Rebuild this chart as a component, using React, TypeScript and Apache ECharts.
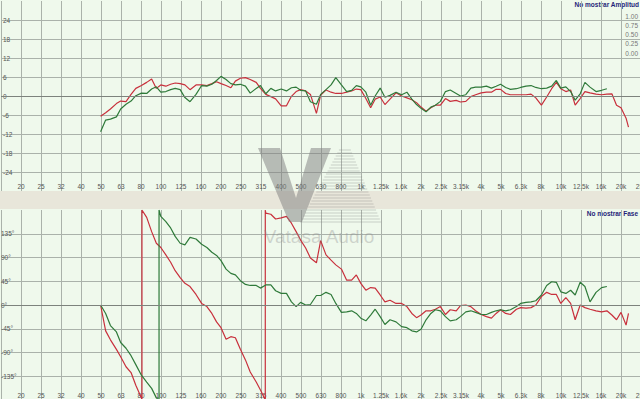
import React, { useEffect, useRef } from "react";
import * as echarts from "echarts";

// Third-octave tick labels; index 0 corresponds to band position -1 (16 Hz, hidden)
const bandLabels = ["", "20", "25", "32", "40", "50", "63", "80", "100", "125", "160", "200", "250", "315", "400", "500", "630", "800", "1k", "1.25k", "1.6k", "2k", "2.5k", "3.15k", "4k", "5k", "6.3k", "8k", "10k", "12.5k", "16k", "20k", "25k"];

// 1/12-octave measurement frequencies (Hz)
const freqs = [
  50, 53, 56, 60, 63, 67, 71, 75, 80, 85, 90, 95,
  100, 106, 112, 118, 125, 132, 140, 150, 160, 170, 180, 190,
  200, 212, 224, 236, 250, 265, 280, 300, 315, 335, 355, 375,
  400, 425, 450, 475, 500, 530, 560, 600, 630, 670, 710, 750,
  800, 850, 900, 950, 1000, 1060, 1120, 1180, 1250, 1320, 1400, 1500,
  1600, 1700, 1800, 1900, 2000, 2120, 2240, 2360, 2500, 2650, 2800, 3000,
  3150, 3350, 3550, 3750, 4000, 4250, 4500, 4750, 5000, 5300, 5600, 6000,
  6300, 6700, 7100, 7500, 8000, 8500, 9000, 9500, 10000, 10600, 11200, 11800,
  12500, 13200, 14000, 15000, 16000, 17000, 18000, 19000, 20000, 21200, 21800,
];

// Amplitude (dB)
const ampRed = [
  -6.4, -5.3, -4.1, -2.4, -1.6, -1.8, 0.5, 2.4, 3.3, 4.3, 5.4, 2.4,
  3.5, 3.1, 3.7, 4.1, 3.9, 3.5, 2.0, 3.5, 3.5, 3.3, 3.9, 4.5,
  3.9, 3.3, 2.6, 4.7, 5.6, 5.8, 5.2, 4.3, 2.4, 0.5, -0.2, -0.9,
  -3.1, -3.1, -0.1, 1.4, 2.0, 1.6, 0.5, -5.5, 0.3, 1.9, 1.2, 0.8,
  0.8, 1.2, 1.6, 2.2, 2.0, -0.8, -3.7, -1.0, -0.3, -2.7, -1.0, 1.0,
  0.0, -0.6, -1.2, -2.1, -3.5, -4.8, -3.7, -2.9, -2.9, -0.8, -1.7, -1.4,
  -1.9, -1.7, -0.2, 0.4, 1.0, 1.2, 1.2, 2.1, 2.1, 0.8, 0.4, 0.4,
  0.4, 0.4, 0.6, -0.6, -2.9, -0.3, 2.3, 4.3, 2.3, 1.4, 1.9, -2.9,
  -0.8, 1.4, 1.0, 0.6, 0.4, 0.6, 0.7, -2.9, -3.7, -7.0, -9.8,
];
const ampGreen = [
  -11.3, -7.6, -7.3, -6.6, -4.1, -2.6, -1.6, 0.1, 0.9, 0.8, 2.2, 2.9,
  1.2, 1.4, 2.0, 2.4, 2.0, -0.5, -1.8, 0.5, 3.3, 3.1, 3.7, 4.9,
  6.2, 5.2, 3.9, 3.5, 3.7, 3.1, 0.9, 2.4, 3.3, 0.7, 2.4, 1.6,
  2.2, 1.6, 2.6, 2.8, 1.8, 1.6, -1.8, -2.6, 0.5, 2.0, 3.5, 5.8,
  3.5, 1.4, 1.8, 3.3, 2.9, 1.2, -2.9, 0.0, 2.5, -0.4, 0.2, 1.2,
  0.4, 1.2, -1.0, -2.7, -3.9, -5.0, -3.5, -2.9, -1.7, 1.4, 1.9, 0.8,
  0.0, 0.4, 2.5, 2.8, 2.8, 3.1, 2.5, 3.1, 3.7, 2.7, 2.1, 2.3,
  2.7, 3.1, 3.3, 2.7, 2.3, 2.5, 3.1, 4.9, 2.5, 2.9, 1.4, -1.3,
  0.7, 4.3, 2.8, 1.4, 1.8, 2.3,
];

// Phase (degrees), wrapped to ±180
const phaseRed = [
  0, -49, -66, -84, -98, -117, -128, -152, -176, 166, 139, 117,
  109, 95, 81, 65, 52, 41, 35, 20, 3, -3, -16, -32,
  -43, -65, -60, -62, -84, -104, -127, -146, -161, 174, 172, 163,
  165, 168, 155, 139, 123, 108, 89, 80, 122, 95, 85, 76,
  68, 47, 47, 57, 41, 28, 33, 32, 19, 6, 9, 3,
  3, -3, -16, -24, -19, -11, -11, -8, -3, -18, -9, -11,
  -1, 0, -3, -11, -18, -22, -25, -16, -9, -16, -18, -8,
  -5, -6, -5, 0, 16, 24, 20, 20, 3, 14, 3, -28,
  0, -5, -8, -11, -13, -11, -19, -28, -14, -38, -16,
];
const phaseRedWraps = [80.5, 333];
const phaseGreen = [
  0, -16, -39, -51, -71, -82, -96, -113, -133, -146, -158, -176,
  168, 158, 146, 130, 117, 114, 128, 125, 115, 109, 100, 94,
  84, 68, 60, 57, 46, 39, 37, 37, 32, 38, 38, 27,
  22, 22, 6, -3, 5, 0, 1, 18, 18, 24, 20, 3,
  -14, -13, -11, -16, -25, -30, -19, -8, -22, -37, -28, -32,
  -41, -43, -49, -51, -46, -28, -16, -9, -11, -22, -30, -28,
  -22, -13, -11, -14, -18, -18, -14, -11, -9, -11, -9, -3,
  3, 5, 6, 8, 19, 37, 44, 43, 25, 22, 28, 19,
  43, 35, 6, 24, 33, 35,
];
const phaseGreenWraps = [98];

const coherenceTicks = [0, 0.25, 0.5, 0.75, 1];

const RED = "#c8303c";
const GREEN = "#2f7a3a";
const GRID = "#aab2aa";
const FONT = "'Liberation Sans', Arial, sans-serif";

const toBand = (f: number) => 10 * Math.log10(f / 20);

function ampPairs(vals: number[]) {
  return vals.map((v, i) => [toBand(freqs[i]), v]);
}
function phasePairs(vals: number[], wraps: number[]) {
  const out: number[][] = [];
  vals.forEach((v, i) => {
    if (i > 0) {
      wraps.forEach((w) => {
        if (w > freqs[i - 1] && w <= freqs[i]) {
          out.push([toBand(w), -180]);
          out.push([toBand(w), 180]);
        }
      });
    }
    out.push([toBand(freqs[i]), v]);
  });
  return out;
}

function watermark() {
  const els: any[] = [];
  // "A" hatch
  for (let y = 150; y <= 222; y += 3) {
    const xl = 340 - (y - 148) * 0.54;
    const xr = 350 + (y - 148) * 0.42;
    els.push({
      type: "line",
      shape: { x1: xl, y1: y, x2: xr, y2: y },
      style: { stroke: "rgba(130,130,130,0.35)", lineWidth: 1 },
      silent: true,
      z: 5,
    });
  }
  // "V"
  els.push({
    type: "polygon",
    shape: {
      points: [
        [258, 148], [280, 148], [296, 198], [311, 148], [331, 148], [302, 222], [289, 222],
      ],
    },
    style: { fill: "rgba(125,125,125,0.5)" },
    silent: true,
    z: 5,
  });
  els.push({
    type: "text",
    x: 319,
    y: 236,
    style: {
      text: "Vatasa Audio",
      fill: "rgba(140,140,140,0.35)",
      font: `19px ${FONT}`,
      align: "center",
      verticalAlign: "middle",
    },
    silent: true,
    z: 5,
  });
  return els;
}

export default function App() {
  const ref = useRef<HTMLDivElement>(null);
  useEffect(() => {
    const chart = echarts.init(ref.current!, null, { renderer: "svg" });
    const xAxisBase = (gridIndex: number) => ({
      gridIndex,
      type: "value",
      min: -1,
      max: 31,
      interval: 1,
      axisLine: { show: false },
      axisTick: { show: false },
      splitLine: { show: true, lineStyle: { color: GRID, width: 1 } },
      axisLabel: {
        inside: true,
        margin: 1,
        fontSize: 6.5,
        color: "#555",
        fontFamily: FONT,
        formatter: (v: number) => bandLabels[Math.round(v) + 1] ?? "",
      },
    });
    const option: any = {
      animation: false,
      backgroundColor: "#e8e6da",
      grid: [
        { left: 1, top: 1, width: 640, height: 190, outerBoundsMode: "none", containLabel: false },
        { left: 1, top: 210, width: 640, height: 190, outerBoundsMode: "none", containLabel: false },
        { right: 1, top: 16, width: 20, height: 37, outerBoundsMode: "none", containLabel: false },
      ],
      xAxis: [
        xAxisBase(0),
        xAxisBase(1),
        { gridIndex: 2, type: "value", min: 0, max: 1, show: false },
      ],
      yAxis: [
        {
          gridIndex: 0,
          type: "value",
          min: -30,
          max: 30,
          interval: 6,
          axisLine: { show: false },
          axisTick: { show: false },
          splitLine: { show: true, showMinLine: false, showMaxLine: false, lineStyle: { color: GRID } },
          axisLabel: {
            inside: true,
            margin: 2,
            fontSize: 6.5,
            color: "#555",
            fontFamily: FONT,
            formatter: (v: number) => (Math.abs(v) >= 30 ? "" : String(v)),
          },
        },
        {
          gridIndex: 1,
          type: "value",
          min: -180,
          max: 180,
          interval: 45,
          axisLine: { show: false },
          axisTick: { show: false },
          splitLine: { show: true, showMinLine: false, showMaxLine: false, lineStyle: { color: GRID } },
          axisLabel: {
            inside: true,
            margin: 0,
            fontSize: 6.5,
            color: "#555",
            fontFamily: FONT,
            formatter: (v: number) => (Math.abs(v) >= 180 ? "" : v + "°"),
          },
        },
        {
          gridIndex: 2,
          type: "value",
          position: "right",
          min: coherenceTicks[0],
          max: coherenceTicks[coherenceTicks.length - 1],
          interval: coherenceTicks[1] - coherenceTicks[0],
          axisLine: { show: false },
          axisTick: { show: false },
          splitLine: { show: false },
          axisLabel: {
            inside: true,
            margin: 1,
            fontSize: 6.5,
            color: "#777",
            fontFamily: FONT,
            formatter: (v: number) => v.toFixed(2),
          },
        },
      ],
      graphic: [
        { type: "rect", shape: { x: 0, y: 0, width: 640, height: 191 }, style: { fill: "#eff9ec" }, z: -10, silent: true },
        { type: "rect", shape: { x: 0, y: 209, width: 640, height: 191 }, style: { fill: "#eff9ec" }, z: -10, silent: true },
        {
          type: "text",
          x: 639,
          y: 1,
          style: { text: "No mostrar Amplitud", fill: "#1f1f78", font: `bold 6.5px ${FONT}`, align: "right", verticalAlign: "top" },
          silent: true,
        },
        {
          type: "text",
          x: 638,
          y: 210,
          style: { text: "No mostrar Fase", fill: "#1f1f78", font: `bold 6.5px ${FONT}`, align: "right", verticalAlign: "top" },
          silent: true,
        },
        ...watermark(),
      ],
      series: [
        {
          type: "line",
          xAxisIndex: 0,
          yAxisIndex: 0,
          data: ampPairs(ampRed),
          showSymbol: false,
          lineStyle: { color: RED, width: 1.2 },
          itemStyle: { color: RED },
          markLine: {
            silent: true,
            symbol: ["none", "none"],
            label: { show: false },
            lineStyle: { color: "#7d837d", type: "solid", width: 1 },
            data: [{ yAxis: 0 }],
          },
        },
        {
          type: "line",
          xAxisIndex: 0,
          yAxisIndex: 0,
          data: ampPairs(ampGreen),
          showSymbol: false,
          lineStyle: { color: GREEN, width: 1.2 },
          itemStyle: { color: GREEN },
        },
        {
          type: "line",
          xAxisIndex: 1,
          yAxisIndex: 1,
          data: phasePairs(phaseRed, phaseRedWraps),
          showSymbol: false,
          lineStyle: { color: RED, width: 1.2 },
          itemStyle: { color: RED },
          markLine: {
            silent: true,
            symbol: ["none", "none"],
            label: { show: false },
            lineStyle: { color: "#7d837d", type: "solid", width: 1 },
            data: [{ yAxis: 0 }],
          },
        },
        {
          type: "line",
          xAxisIndex: 1,
          yAxisIndex: 1,
          data: phasePairs(phaseGreen, phaseGreenWraps),
          showSymbol: false,
          lineStyle: { color: GREEN, width: 1.2 },
          itemStyle: { color: GREEN },
        },
        { type: "line", xAxisIndex: 2, yAxisIndex: 2, data: [] },
      ],
    };
    chart.setOption(option);
    return () => chart.dispose();
  }, []);
  return (
    <div
      ref={ref}
      style={{ position: "fixed", left: 0, top: 0, width: 640, height: 399 }}
    />
  );
}
